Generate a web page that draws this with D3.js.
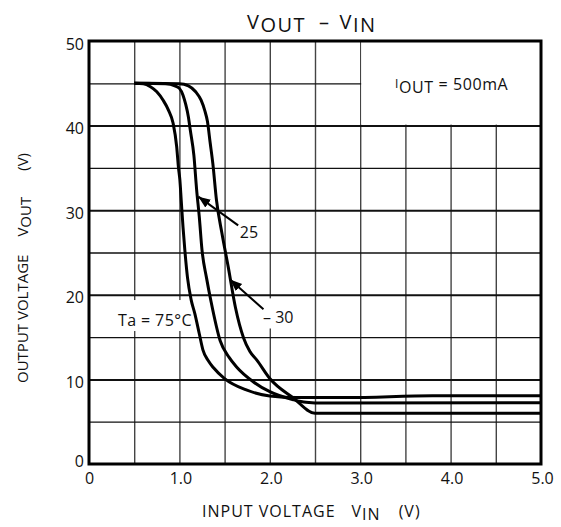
<!DOCTYPE html>
<html>
<head>
<meta charset="utf-8">
<script src="https://cdn.jsdelivr.net/npm/d3@7"></script>
<style>
  body { margin: 0; background: #fff; }
  text { font-family: "Open Sans", sans-serif; fill: #111; }
</style>
</head>
<body>
<div id="chart"></div>
<script>
// curves (Vin in V, Vout in V)
const vin75 = [0.5, 0.6, 0.68, 0.75, 0.82, 0.88, 0.93, 0.97, 0.99, 1.005, 1.02, 1.04, 1.06, 1.09, 1.13, 1.17, 1.22, 1.26, 1.32, 1.375, 1.5, 1.74, 2.0, 2.3, 2.85, 3.8, 5.0];
const vout75 = [45, 44.95, 44.6, 44.0, 43.0, 41.8, 40.3, 37.5, 35, 33.6, 31.2, 28, 25.3, 22, 19.4, 17.8, 15.4, 13.5, 12.2, 11.4, 10.1, 8.75, 8.04, 7.85, 7.85, 8.07, 8.07];

const vin25 = [0.5, 0.85, 0.95, 1.0, 1.04, 1.07, 1.1, 1.12, 1.16, 1.19, 1.22, 1.25, 1.3, 1.35, 1.45, 1.55, 1.63, 1.82, 2.0, 2.26, 2.4, 2.6, 5.0];
const vout25 = [45, 44.95, 44.7, 44.4, 43.6, 42.5, 41, 39.5, 36.5, 32.5, 29.2, 25.3, 22, 19.2, 14.6, 12.6, 11.5, 9.7, 8.55, 7.6, 7.3, 7.2, 7.25];

const vinM30 = [0.5, 1.0, 1.1, 1.18, 1.24, 1.28, 1.31, 1.34, 1.37, 1.41, 1.47, 1.54, 1.62, 1.71, 1.78, 1.855, 2.0, 2.26, 2.5, 5.0];
const voutM30 = [45, 44.95, 44.7, 44, 43, 41.8, 40.5, 38, 35.5, 31.2, 27.3, 23.3, 18.5, 14.9, 13.3, 12.3, 10.1, 7.8, 6.0, 6.0];

const xTicks = [0, 1, 2, 3, 4, 5];
const yTicks = [0, 10, 20, 30, 40, 50];
const xGrid = d3.range(0.5, 5, 0.5);
const yGrid = d3.range(5, 50, 5);

const W = 561, H = 527;
const pLeft = 89, pRight = 541, pTop = 41, pBottom = 464;

const svg = d3.select("#chart").append("svg")
    .attr("width", W)
    .attr("height", H);

const x = d3.scaleLinear().domain([0, 5]).range([pLeft, pRight]);
const y = d3.scaleLinear().domain([0, 50]).range([pBottom, pTop]);

// grid
svg.append("g")
    .attr("transform", `translate(0,${pBottom})`)
    .call(d3.axisBottom(x).tickValues(xGrid).tickSize(-(pBottom - pTop)).tickFormat(""))
    .call(g => g.select(".domain").remove())
    .selectAll("line").attr("stroke", "#444").attr("stroke-width", 1.4);

svg.append("g")
    .attr("transform", `translate(${pLeft},0)`)
    .call(d3.axisLeft(y).tickValues(yGrid).tickSize(-(pRight - pLeft)).tickFormat(""))
    .call(g => g.select(".domain").remove())
    .selectAll("line").attr("stroke", "#111")
    .attr("stroke-width", d => d % 10 === 0 ? 2 : 1.3);

// white boxes behind the notes
const boxes = [
    [3.0, 50, 5.0, 40],
    [0.25, 19.5, 1.18, 15.6],
    [1.88, 19.7, 2.3, 15.9]
];
svg.append("g").selectAll("rect")
    .data(boxes)
    .enter().append("rect")
    .attr("x", d => x(d[0]) + 1)
    .attr("y", d => y(d[1]) + 1)
    .attr("width", d => x(d[2]) - x(d[0]) - 2)
    .attr("height", d => y(d[3]) - y(d[1]) - 2)
    .attr("fill", "#fff");

// curves
const series = [
    { vin: vin75, vout: vout75 },
    { vin: vin25, vout: vout25 },
    { vin: vinM30, vout: voutM30 }
];
const line = d3.line()
    .x(d => x(d[0]))
    .y(d => y(d[1]))
    .curve(d3.curveMonotoneX);

svg.append("g").selectAll("path")
    .data(series)
    .enter().append("path")
    .attr("d", s => line(s.vin.map((v, i) => [v, s.vout[i]])))
    .attr("fill", "none")
    .attr("stroke", "#000")
    .attr("stroke-width", 3)
    .attr("stroke-linejoin", "round");

// frame
svg.append("rect")
    .attr("x", pLeft).attr("y", pTop)
    .attr("width", pRight - pLeft).attr("height", pBottom - pTop)
    .attr("fill", "none").attr("stroke", "#000").attr("stroke-width", 3);

// axes labels
const xAxis = svg.append("g")
    .attr("transform", `translate(0,${pBottom})`)
    .call(d3.axisBottom(x).tickValues(xTicks).tickSize(0).tickPadding(9)
        .tickFormat(d => d === 0 ? "0" : d3.format(".1f")(d)));
xAxis.select(".domain").remove();
xAxis.selectAll("text").attr("font-size", 16).attr("font-family", "Open Sans").attr("fill", "#111")
    .attr("dx", d => d === 0 ? "0" : "1");

const yAxis = svg.append("g")
    .attr("transform", `translate(${pLeft},0)`)
    .call(d3.axisLeft(y).tickValues(yTicks).tickSize(0).tickPadding(5));
yAxis.select(".domain").remove();
yAxis.selectAll("text").attr("font-size", 16).attr("font-family", "Open Sans").attr("fill", "#111")
    .attr("dy", d => d === 0 ? "0.15em" : "0.5em");

// title
const title = svg.append("text")
    .attr("x", 247).attr("y", 29)
    .attr("font-size", 20).attr("letter-spacing", 1.5);
title.append("tspan").text("V");
title.append("tspan").attr("dy", 3).text("OUT");
title.append("tspan").attr("dy", -3).attr("dx", 13).text("–");
title.append("tspan").attr("dx", 9).text("V");
title.append("tspan").attr("dy", 3).text("IN");

// x title
const xt = svg.append("text")
    .attr("x", 202).attr("y", 517)
    .attr("font-size", 16).attr("letter-spacing", 1);
xt.append("tspan").text("INPUT VOLTAGE");
xt.append("tspan").attr("dx", 16).text("V");
xt.append("tspan").attr("dy", 3).text("IN");
xt.append("tspan").attr("dy", -3).attr("dx", 18).text("(V)");

// y title
const yt = svg.append("text")
    .attr("transform", "translate(28,383) rotate(-90)")
    .attr("font-size", 15);
yt.append("tspan").text("OUTPUT VOLTAGE");
yt.append("tspan").attr("dx", 18).text("V");
yt.append("tspan").attr("dy", 3).text("OUT");
yt.append("tspan").attr("dy", -3).attr("dx", 26).text("(V)");

// notes
const iout = svg.append("text")
    .attr("x", x(3.385)).attr("y", y(44.2))
    .attr("font-size", 16).attr("letter-spacing", 0.6);
iout.append("tspan").attr("dy", -2).attr("font-size", 12).text("I");
iout.append("tspan").attr("dy", 5).text("OUT");
iout.append("tspan").attr("dy", -3).text(" = 500mA");

svg.append("text")
    .attr("x", x(0.32)).attr("y", y(16.3))
    .attr("font-size", 16).attr("letter-spacing", 0.4)
    .text("Ta = 75°C");

svg.append("text")
    .attr("x", x(1.77)).attr("y", y(26.7))
    .attr("text-anchor", "middle")
    .attr("font-size", 16)
    .text("25");

svg.append("text")
    .attr("x", x(1.925)).attr("y", y(16.7))
    .attr("font-size", 16)
    .text("– 30");

// arrows
svg.append("defs").append("marker")
    .attr("id", "head")
    .attr("viewBox", "0 0 10 10")
    .attr("refX", 10).attr("refY", 5)
    .attr("markerWidth", 12).attr("markerHeight", 12)
    .attr("markerUnits", "userSpaceOnUse")
    .attr("orient", "auto")
    .append("path").attr("d", "M0,1 L10,5 L0,9 Z").attr("fill", "#000");

const arrows = [
    [1.65, 28.2, 1.21, 31.6],
    [1.93, 18.3, 1.56, 21.8]
];
svg.append("g").selectAll("line")
    .data(arrows)
    .enter().append("line")
    .attr("x1", d => x(d[0])).attr("y1", d => y(d[1]))
    .attr("x2", d => x(d[2])).attr("y2", d => y(d[3]))
    .attr("stroke", "#000").attr("stroke-width", 2)
    .attr("marker-end", "url(#head)");
</script>
</body>
</html>
